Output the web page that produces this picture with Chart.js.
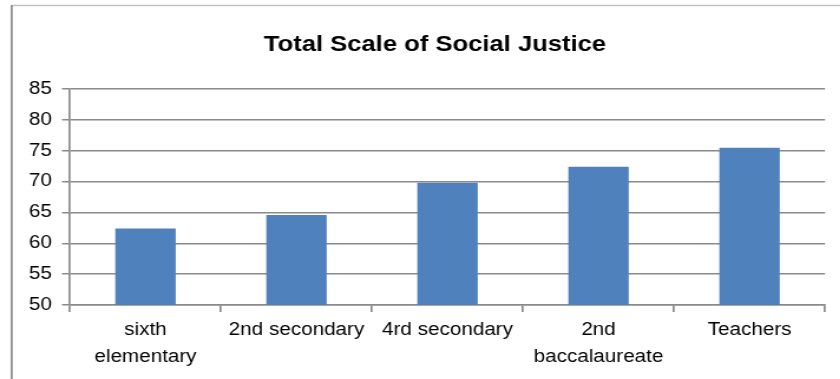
<!DOCTYPE html>
<html>
<head>
    <title>Total Scale of Social Justice</title>
    <script src="https://cdn.jsdelivr.net/npm/chart.js"></script>
    <style>
        html, body { margin: 0; padding: 0; background: #ffffff; overflow: hidden; }
        /* the chart is laid out 712px wide and stretched out to the 840px frame */
        #wrap { width: 712px; height: 379px; transform: scaleX(1.18); transform-origin: 0 0; }
    </style>
</head>
<body>
    <div id="wrap"><canvas id="chart" width="712" height="379"></canvas></div>
    <script>
        const chartTitle = 'Total Scale of Social Justice';
        const categories = [['sixth', 'elementary'], '2nd secondary', '4rd secondary', ['2nd', 'baccalaureate'], 'Teachers'];
        const scores = [62.4, 64.6, 69.8, 72.4, 75.5];
        const yTicks = [50, 55, 60, 65, 70, 75, 80, 85];

        const labelFont = { family: '"Liberation Sans", Arial, sans-serif', size: 17.5, lineHeight: 1.52 };
        const axisGray = '#8a8a8a';

        // thin frame round the chart and the centred title
        const frame = {
            id: 'frame',
            beforeDraw(chart) {
                const ctx = chart.ctx;
                ctx.save();
                ctx.strokeStyle = '#c4c4c4';
                ctx.lineWidth = 1.5;
                ctx.beginPath();
                ctx.moveTo(9.9, 5.5);
                ctx.lineTo(chart.width, 5.5);
                ctx.stroke();
                ctx.strokeStyle = '#8c8c8c';
                ctx.lineWidth = 1.7;
                ctx.beginPath();
                ctx.moveTo(9.9, 5);
                ctx.lineTo(9.9, chart.height);
                ctx.stroke();
                ctx.restore();
            },
            afterDraw(chart) {
                const ctx = chart.ctx;
                ctx.save();
                ctx.fillStyle = '#000000';
                ctx.font = 'bold 21.7px "Liberation Sans", Arial, sans-serif';
                ctx.textAlign = 'center';
                ctx.textBaseline = 'alphabetic';
                ctx.fillText(chartTitle, 368.6, 50.5);
                ctx.restore();
            }
        };

        new Chart(document.getElementById('chart'), {
            type: 'bar',
            data: {
                labels: categories,
                datasets: [{
                    data: scores,
                    backgroundColor: '#4F81BD',
                    categoryPercentage: 1,
                    barPercentage: 0.4
                }]
            },
            options: {
                responsive: false,
                animation: false,
                layout: { padding: { top: 89, right: 12.8, bottom: 0, left: 0 } },
                plugins: {
                    legend: { display: false },
                    tooltip: { enabled: false }
                },
                scales: {
                    x: {
                        offset: true,
                        grid: { drawOnChartArea: false, color: axisGray, lineWidth: 1.7, tickLength: 7, offset: true },
                        border: { color: axisGray, width: 1.5 },
                        ticks: { color: '#000000', font: labelFont, padding: 5.3, maxRotation: 0, autoSkip: false },
                        afterFit(scale) { scale.height = 74; }
                    },
                    y: {
                        min: yTicks[0],
                        max: yTicks[yTicks.length - 1],
                        grid: { color: axisGray, lineWidth: 1.5, tickLength: 6.8 },
                        border: { color: axisGray, width: 1.7 },
                        ticks: { stepSize: yTicks[1] - yTicks[0], color: '#000000', font: labelFont, padding: 8.5 },
                        afterFit(scale) { scale.width = 59.3; }
                    }
                }
            },
            plugins: [frame]
        });
    </script>
</body>
</html>
